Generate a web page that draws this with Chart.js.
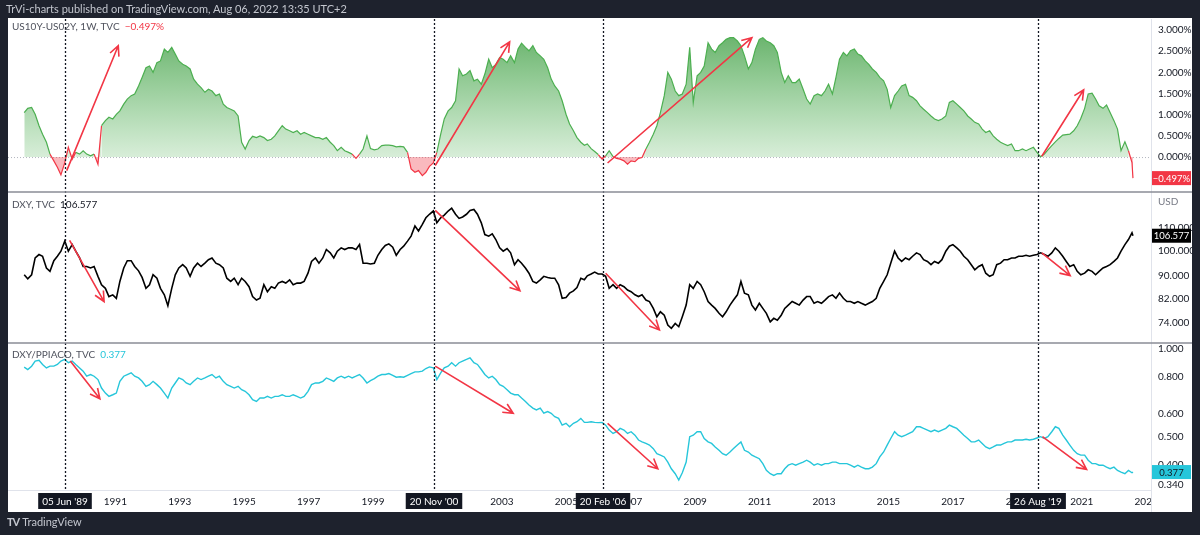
<!DOCTYPE html>
<html>
<head>
<meta charset="utf-8">
<script src="https://cdn.jsdelivr.net/npm/chart.js@4.4.1/dist/chart.umd.min.js"></script>
<style>
  body { margin: 0; background: #1e222d; }
  #wrap { position: relative; width: 1200px; height: 535px; overflow: hidden; }
  #chart { position: absolute; left: 0; top: 0; }
  .txt { position: absolute; font-family: Lato, "Liberation Sans", sans-serif; white-space: pre; }
  .hdr { left: 6px; top: 2px; font-size: 11px; color: #c3c6ce; }
  .leg { left: 12px; font-size: 10px; color: #50535e; }
  .foot { left: 7px; top: 515px; font-size: 11px; color: #c3c6ce; }
  .foot b { font-size: 11px; letter-spacing: -1px; margin-right: 3px; }
</style>
</head>
<body>
<div id="wrap">
  <canvas id="chart" width="1200" height="535"></canvas>
  <div class="txt hdr">TrVi-charts published on TradingView.com, Aug 06, 2022 13:35 UTC+2</div>
  <div class="txt leg" style="top:20px">US10Y-US02Y, 1W, TVC  <span style="color:#f23645">−0.497%</span></div>
  <div class="txt leg" style="top:198px">DXY, TVC  <span style="color:#131722">106.577</span></div>
  <div class="txt leg" style="top:348px">DXY/PPIACO, TVC  <span style="color:#26c6da">0.377</span></div>
  <div class="txt foot"><b>TV</b>TradingView</div>
</div>
<script>
// weekly closes, sampled roughly every 6 weeks (decimal years)
const dates = [
  1988.17, 1988.28, 1988.40, 1988.51, 1988.63, 1988.74, 1988.86, 1988.97, 1989.09, 1989.20,
  1989.31, 1989.43, 1989.54, 1989.66, 1989.77, 1989.89, 1990.00, 1990.11, 1990.23, 1990.34,
  1990.46, 1990.57, 1990.69, 1990.80, 1990.92, 1991.03, 1991.14, 1991.26, 1991.37, 1991.49,
  1991.60, 1991.72, 1991.83, 1991.95, 1992.06, 1992.17, 1992.29, 1992.40, 1992.52, 1992.63,
  1992.75, 1992.86, 1992.97, 1993.09, 1993.20, 1993.32, 1993.43, 1993.55, 1993.66, 1993.78,
  1993.89, 1994.00, 1994.12, 1994.23, 1994.35, 1994.46, 1994.58, 1994.69, 1994.81, 1994.92,
  1995.03, 1995.15, 1995.26, 1995.38, 1995.49, 1995.61, 1995.72, 1995.84, 1995.95, 1996.06,
  1996.18, 1996.29, 1996.41, 1996.52, 1996.64, 1996.75, 1996.86, 1996.98, 1997.09, 1997.21,
  1997.32, 1997.44, 1997.55, 1997.67, 1997.78, 1997.89, 1998.01, 1998.12, 1998.24, 1998.35,
  1998.47, 1998.58, 1998.69, 1998.81, 1998.92, 1999.04, 1999.15, 1999.27, 1999.38, 1999.49,
  1999.61, 1999.72, 1999.84, 1999.95, 2000.07, 2000.18, 2000.30, 2000.41, 2000.53, 2000.64,
  2000.75, 2000.87, 2000.98, 2001.10, 2001.21, 2001.33, 2001.44, 2001.56, 2001.67, 2001.78,
  2001.90, 2002.01, 2002.13, 2002.24, 2002.36, 2002.47, 2002.59, 2002.70, 2002.81, 2002.93,
  2003.04, 2003.16, 2003.27, 2003.39, 2003.50, 2003.61, 2003.73, 2003.84, 2003.96, 2004.07,
  2004.19, 2004.30, 2004.42, 2004.53, 2004.64, 2004.76, 2004.87, 2004.99, 2005.10, 2005.22,
  2005.33, 2005.45, 2005.56,
  2005.65, 2005.77, 2005.88, 2005.99, 2006.11, 2006.22, 2006.33, 2006.45, 2006.56, 2006.67,
  2006.79, 2006.90, 2007.01, 2007.13, 2007.24, 2007.35, 2007.47, 2007.58, 2007.70, 2007.81,
  2007.92, 2008.04, 2008.15, 2008.26, 2008.38, 2008.49, 2008.60, 2008.72, 2008.83, 2008.94,
  2009.06, 2009.17, 2009.28, 2009.40, 2009.51, 2009.62, 2009.74, 2009.85, 2009.96, 2010.08,
  2010.19, 2010.31, 2010.42, 2010.53, 2010.65, 2010.76, 2010.87, 2010.99, 2011.10, 2011.21,
  2011.33, 2011.44, 2011.55, 2011.67, 2011.78, 2011.89, 2012.01, 2012.12, 2012.23, 2012.35,
  2012.46, 2012.57, 2012.69, 2012.80, 2012.92, 2013.03, 2013.14, 2013.26, 2013.37, 2013.48,
  2013.60, 2013.71, 2013.82, 2013.94, 2014.05, 2014.16, 2014.28, 2014.39, 2014.50, 2014.62,
  2014.73, 2014.85, 2014.96, 2015.07, 2015.19, 2015.30, 2015.41, 2015.53, 2015.64, 2015.75,
  2015.87, 2015.98, 2016.09, 2016.21, 2016.32, 2016.43, 2016.55, 2016.66, 2016.78, 2016.89,
  2017.00, 2017.12, 2017.23, 2017.34, 2017.46, 2017.57, 2017.68, 2017.80, 2017.91, 2018.02,
  2018.14, 2018.25, 2018.36, 2018.48, 2018.59, 2018.70, 2018.82, 2018.93, 2019.04, 2019.16,
  2019.27, 2019.38, 2019.50, 2019.61, 2019.72, 2019.84, 2019.95, 2020.07, 2020.18, 2020.29,
  2020.41, 2020.52, 2020.63, 2020.75, 2020.86, 2020.97, 2021.09, 2021.20, 2021.32, 2021.43,
  2021.54, 2021.66, 2021.77, 2021.88, 2022.00, 2022.11, 2022.22, 2022.34, 2022.45, 2022.56,
  2022.59
];

// US10Y - US02Y spread, %
const spread = [
  1.05, 1.15, 1.17, 1.01, 0.74, 0.54, 0.35, 0.07, -0.09, -0.24,
  -0.42, -0.13, 0.23, -0.05, 0.11, 0.07, 0.15, 0.07, 0.03, 0.07,
  -0.17, 0.74, 0.86, 0.94, 0.90, 1.01, 1.09, 1.25, 1.37, 1.45,
  1.49, 1.68, 1.88, 2.11, 2.15, 2.00, 2.23, 2.27, 2.55, 2.47,
  2.59, 2.43, 2.27, 2.19, 2.15, 2.08, 1.84, 1.72, 1.64, 1.53,
  1.60, 1.56, 1.45, 1.49, 1.25, 1.17, 1.13, 1.09, 0.97, 0.35,
  0.19, 0.39, 0.49, 0.46, 0.50, 0.46, 0.39, 0.42, 0.50, 0.62,
  0.74, 0.66, 0.62, 0.58, 0.62, 0.54, 0.58, 0.54, 0.50, 0.46,
  0.46, 0.42, 0.46, 0.35, 0.27, 0.15, 0.23, 0.15, 0.11, 0.07,
  -0.03, 0.07, 0.19, 0.50, 0.20, 0.17, 0.19, 0.27, 0.28, 0.28,
  0.27, 0.24, 0.25, 0.24, 0.11, -0.28, -0.36, -0.32, -0.44, -0.36,
  -0.22, -0.14, 0.11, 0.54, 0.90, 1.09, 1.17, 1.33, 2.08, 1.92,
  1.96, 2.04, 1.80, 1.84, 1.72, 1.96, 2.31, 2.11, 2.19, 2.35,
  2.31, 2.23, 2.39, 2.23, 2.55, 2.69, 2.59, 2.51, 2.63, 2.47,
  2.39, 2.31, 2.11, 1.84, 1.68, 1.56, 1.33, 1.01, 0.78, 0.62,
  0.46, 0.35, 0.28,
  0.31, 0.20, 0.13, 0.06, -0.05, 0.03, 0.15, 0.01, -0.03, -0.05,
  -0.09, -0.17, -0.09, -0.11, -0.03, -0.01, 0.19, 0.35, 0.54, 0.74,
  1.05, 1.45, 2.00, 1.84, 1.56, 1.45, 1.49, 1.72, 2.59, 1.29,
  1.92, 2.00, 2.15, 2.70, 2.55, 2.47, 2.63, 2.70, 2.78, 2.82,
  2.82, 2.74, 2.63, 2.39, 2.08, 2.23, 2.55, 2.78, 2.82, 2.74,
  2.70, 2.63, 2.47, 2.00, 1.76, 1.92, 1.76, 1.76, 1.84, 1.60,
  1.37, 1.25, 1.45, 1.49, 1.45, 1.56, 1.72, 1.49, 1.88, 2.31,
  2.47, 2.39, 2.51, 2.55, 2.43, 2.39, 2.27, 2.19, 2.08, 2.00,
  1.88, 1.80, 1.60, 1.17, 1.45, 1.56, 1.68, 1.72, 1.45, 1.41,
  1.33, 1.21, 1.13, 1.05, 0.97, 0.90, 0.86, 0.90, 0.97, 1.29,
  1.33, 1.25, 1.17, 1.09, 0.97, 0.90, 0.82, 0.78, 0.66, 0.58,
  0.62, 0.50, 0.42, 0.35, 0.31, 0.27, 0.31, 0.15, 0.15, 0.19,
  0.15, 0.19, 0.23, 0.11, 0.01, 0.07, 0.17, 0.27, 0.36, 0.44,
  0.52, 0.53, 0.54, 0.62, 0.74, 0.91, 1.15, 1.49, 1.51, 1.37,
  1.21, 1.15, 1.23, 1.05, 0.86, 0.66, 0.15, 0.36, 0.15, -0.13,
  -0.497
];

// DXY, TVC
const dxy = [
  90.5, 89.0, 90.5, 97.1, 98.5, 97.8, 93.1, 91.8, 96.0, 97.8,
  99.9, 104.2, 99.9, 102.7, 99.9, 97.1, 93.7, 93.7, 93.1, 93.7,
  89.9, 86.8, 85.5, 82.6, 83.2, 82.0, 88.0, 93.1, 96.0, 96.0,
  93.7, 92.0, 89.5, 85.5, 86.8, 90.5, 89.2, 85.5, 83.2, 79.5,
  85.5, 90.5, 93.1, 94.4, 93.1, 89.9, 93.1, 95.0, 93.7, 95.0,
  96.4, 97.1, 95.0, 94.4, 93.1, 89.2, 88.0, 89.2, 86.8, 89.2,
  88.0, 86.1, 82.6, 81.4, 82.0, 86.8, 84.3, 86.1, 85.5, 87.4,
  88.0, 87.4, 88.6, 86.8, 87.4, 87.4, 88.0, 91.1, 95.7, 97.1,
  95.0, 97.1, 100.6, 99.2, 97.1, 99.9, 101.3, 100.6, 101.3, 101.3,
  100.6, 102.7, 95.0, 95.0, 94.7, 95.0, 98.2, 100.6, 102.3, 103.0,
  101.6, 98.2, 100.6, 102.0, 104.2, 106.4, 111.0, 108.7, 111.8, 114.9,
  116.6, 118.2, 112.5, 114.9, 116.2, 118.2, 119.6, 116.6, 114.6, 115.3,
  116.6, 118.5, 119.0, 116.6, 112.5, 107.1, 106.4, 107.4, 104.9, 101.3,
  99.9, 101.0, 99.2, 94.4, 96.4, 95.0, 93.1, 91.1, 88.0, 87.4,
  88.6, 89.9, 89.5, 89.2, 89.2, 86.8, 82.0, 82.3, 83.8, 84.6,
  85.8, 89.2, 88.6,
  90.1, 90.8, 91.5, 90.8, 90.8, 89.9, 85.5, 86.8, 85.5, 86.8,
  86.1, 84.9, 84.3, 83.2, 82.6, 83.2, 81.4, 80.9, 78.6, 75.9,
  77.5, 76.4, 73.3, 72.3, 73.8, 72.8, 75.9, 79.7, 86.8, 85.5,
  88.0, 86.8, 84.3, 80.9, 79.7, 78.6, 77.0, 75.9, 77.5, 79.7,
  81.4, 83.2, 88.0, 83.8, 83.2, 79.7, 78.1, 80.3, 78.6, 77.0,
  74.3, 75.4, 74.8, 76.4, 78.6, 79.7, 80.9, 80.3, 79.7, 81.4,
  82.6, 82.6, 80.3, 80.9, 80.3, 81.4, 82.6, 83.2, 82.0, 83.8,
  82.0, 80.9, 80.9, 80.3, 80.9, 80.3, 79.7, 80.3, 80.9, 82.0,
  85.5, 88.0, 90.5, 95.0, 99.9, 97.1, 95.7, 97.1, 96.4, 97.8,
  99.2, 98.5, 96.4, 95.7, 94.4, 95.7, 95.0, 96.4, 99.9, 102.0,
  102.7, 101.3, 99.9, 97.8, 96.4, 94.4, 92.4, 93.7, 94.4, 91.1,
  89.9, 90.5, 94.4, 95.0, 96.4, 96.4, 97.1, 97.1, 97.8, 97.8,
  98.2, 97.8, 98.2, 98.5, 99.2, 98.5, 97.8, 99.2, 101.3, 99.9,
  97.8, 95.7, 93.7, 94.4, 91.8, 90.5, 91.1, 92.4, 91.8, 90.5,
  91.8, 93.1, 93.7, 94.4, 95.7, 97.1, 99.9, 102.7, 104.9, 107.9,
  106.577
];

// DXY / PPIACO, TVC
const dxyPpi = [
  0.866, 0.850, 0.873, 0.909, 0.914, 0.885, 0.861, 0.873, 0.873, 0.885,
  0.909, 0.921, 0.897, 0.909, 0.885, 0.861, 0.839, 0.806, 0.817, 0.806,
  0.785, 0.734, 0.705, 0.687, 0.696, 0.705, 0.774, 0.806, 0.817, 0.828,
  0.806, 0.795, 0.774, 0.744, 0.754, 0.774, 0.754, 0.734, 0.705, 0.678,
  0.734, 0.764, 0.795, 0.785, 0.764, 0.754, 0.774, 0.795, 0.785, 0.795,
  0.806, 0.817, 0.795, 0.806, 0.774, 0.754, 0.744, 0.734, 0.744, 0.724,
  0.715, 0.696, 0.669, 0.660, 0.678, 0.678, 0.687, 0.678, 0.687, 0.687,
  0.696, 0.687, 0.687, 0.696, 0.687, 0.678, 0.687, 0.715, 0.754, 0.764,
  0.764, 0.774, 0.795, 0.785, 0.774, 0.795, 0.806, 0.795, 0.806, 0.795,
  0.806, 0.817, 0.795, 0.764, 0.778, 0.791, 0.806, 0.817, 0.817, 0.823,
  0.812, 0.800, 0.803, 0.800, 0.812, 0.823, 0.834, 0.834, 0.839, 0.857,
  0.868, 0.861, 0.785, 0.828, 0.861, 0.873, 0.897, 0.873, 0.897, 0.909,
  0.921, 0.933, 0.897, 0.885, 0.850, 0.817, 0.795, 0.806, 0.785, 0.754,
  0.744, 0.724, 0.705, 0.696, 0.696, 0.678, 0.660, 0.642, 0.626, 0.617,
  0.626, 0.601, 0.609, 0.601, 0.585, 0.577, 0.547, 0.555, 0.540, 0.555,
  0.562, 0.577, 0.559,
  0.559, 0.562, 0.559, 0.558, 0.559, 0.547, 0.526, 0.512, 0.519, 0.533,
  0.526, 0.512, 0.519, 0.505, 0.486, 0.479, 0.473, 0.467, 0.454, 0.436,
  0.431, 0.425, 0.408, 0.387, 0.372, 0.354, 0.375, 0.408, 0.499, 0.505,
  0.519, 0.519, 0.492, 0.479, 0.473, 0.460, 0.448, 0.436, 0.431, 0.442,
  0.454, 0.467, 0.479, 0.448, 0.442, 0.431, 0.425, 0.419, 0.403, 0.382,
  0.372, 0.367, 0.372, 0.372, 0.387, 0.398, 0.403, 0.398, 0.403, 0.408,
  0.414, 0.408, 0.398, 0.403, 0.398, 0.403, 0.403, 0.408, 0.408, 0.403,
  0.403, 0.403, 0.398, 0.392, 0.398, 0.392, 0.387, 0.387, 0.392, 0.403,
  0.425, 0.442, 0.467, 0.492, 0.519, 0.505, 0.499, 0.505, 0.512, 0.519,
  0.540, 0.540, 0.533, 0.526, 0.519, 0.526, 0.519, 0.526, 0.533, 0.547,
  0.540, 0.533, 0.519, 0.505, 0.492, 0.479, 0.479, 0.486, 0.473, 0.460,
  0.454, 0.460, 0.467, 0.467, 0.473, 0.479, 0.479, 0.486, 0.486, 0.486,
  0.489, 0.486, 0.489, 0.494, 0.499, 0.492, 0.499, 0.519, 0.540, 0.533,
  0.505, 0.486, 0.467, 0.448, 0.436, 0.431, 0.431, 0.414, 0.403, 0.403,
  0.398, 0.398, 0.392, 0.387, 0.392, 0.382, 0.377, 0.372, 0.382, 0.375,
  0.377
];

// ticks
const xTickYears = [1989, 1991, 1993, 1995, 1997, 1999, 2001, 2003, 2005, 2007, 2009, 2011,
                    2013, 2015, 2017, 2019, 2021, 2023];
const topTicks = [0, 0.5, 1, 1.5, 2, 2.5, 3];
const midTicks = [74, 82, 90, 100, 110];
const botTicks = [0.34, 0.4, 0.5, 0.6, 0.8, 1.0];

// vertical date markers
const markerDates = [1989.43, 2000.89, 2006.14, 2019.65];
const markerLabels = ["05 Jun '89", "20 Nov '00", "20 Feb '06", "26 Aug '19"];

// hand drawn arrows [axis, fromYear, fromValue, toYear, toValue]
const arrows = [
  ['yTop', 1989.49, -0.32, 1991.09, 2.63],
  ['yTop', 2000.93, -0.20, 2003.24, 2.72],
  ['yTop', 2006.28, -0.14, 2010.76, 2.82],
  ['yTop', 2019.76, 0.02, 2021.06, 1.59],
  ['yMid', 1989.58, 104.5, 1990.65, 80.9],
  ['yMid', 2000.93, 118.5, 2003.56, 84.6],
  ['yMid', 2006.22, 91.1, 2007.89, 71.8],
  ['yMid', 2019.76, 99.2, 2020.64, 90.2],
  ['yBot', 1989.60, 0.909, 1990.52, 0.674],
  ['yBot', 2000.93, 0.873, 2003.35, 0.601],
  ['yBot', 2006.28, 0.555, 2007.84, 0.387],
  ['yBot', 2019.78, 0.499, 2021.15, 0.385]
];

if (dates.length !== spread.length || dates.length !== dxy.length || dates.length !== dxyPpi.length) {
  console.warn('length mismatch', dates.length, spread.length, dxy.length, dxyPpi.length);
}

const RED = '#f23645', GREEN = '#4caf50', CYAN = '#26c6da';
const FONT = 'Lato, "Liberation Sans", sans-serif';
const pts = arr => dates.map((d, i) => ({ x: d, y: arr[i] }));

function arrow(ctx, x1, y1, x2, y2) {
  const a = Math.atan2(y2 - y1, x2 - x1), L = 11, w = 0.45;
  ctx.beginPath();
  ctx.moveTo(x1, y1); ctx.lineTo(x2, y2);
  ctx.moveTo(x2 - L * Math.cos(a - w), y2 - L * Math.sin(a - w));
  ctx.lineTo(x2, y2);
  ctx.lineTo(x2 - L * Math.cos(a + w), y2 - L * Math.sin(a + w));
  ctx.stroke();
}

function valueBox(ctx, y, text, bg, fg) {
  ctx.fillStyle = bg;
  ctx.fillRect(1152, y - 7, 39, 14);
  ctx.fillStyle = fg;
  ctx.font = '9.5px ' + FONT;
  ctx.textAlign = 'center';
  ctx.textBaseline = 'middle';
  ctx.fillText(text, 1171.5, y + 0.5);
}

const tvPlugin = {
  id: 'tv',
  beforeDraw(chart) {
    const c = chart.ctx;
    c.save();
    c.fillStyle = '#ffffff';
    c.fillRect(8, 18, 1184, 494);
    c.restore();
  },
  beforeDatasetsDraw(chart) {
    const c = chart.ctx, a = chart.chartArea, y0 = chart.scales.yTop.getPixelForValue(0);
    c.save();
    c.strokeStyle = '#b2b5be';
    c.lineWidth = 1;
    c.setLineDash([1, 2]);
    c.beginPath(); c.moveTo(a.left, y0 + 0.5); c.lineTo(a.right, y0 + 0.5); c.stroke();
    c.restore();
  },
  afterDatasetsDraw(chart) {
    const c = chart.ctx, a = chart.chartArea, x = chart.scales.x;
    c.save();
    // vertical dotted markers
    c.strokeStyle = '#131722';
    c.lineWidth = 1.3;
    c.setLineDash([2, 2]);
    markerDates.forEach(d => {
      const px = Math.round(x.getPixelForValue(d)) + 0.5;
      c.beginPath(); c.moveTo(px, a.top); c.lineTo(px, a.bottom); c.stroke();
    });
    c.setLineDash([]);
    // arrows
    c.strokeStyle = RED;
    c.lineWidth = 1.6;
    arrows.forEach(([ax, x1, v1, x2, v2]) => {
      const s = chart.scales[ax];
      arrow(c, x.getPixelForValue(x1), s.getPixelForValue(v1), x.getPixelForValue(x2), s.getPixelForValue(v2));
    });
    c.restore();
  },
  afterDraw(chart) {
    const c = chart.ctx, a = chart.chartArea, x = chart.scales.x;
    const sTop = chart.scales.yTop, sMid = chart.scales.yMid, sBot = chart.scales.yBot;
    c.save();
    // clip the time axis under the price scale
    c.fillStyle = '#ffffff';
    c.fillRect(a.right + 1, a.bottom + 1, 1192 - a.right - 1, 21);
    c.strokeStyle = '#e0e3eb';
    c.lineWidth = 1;
    c.beginPath(); c.moveTo(a.right + 0.5, a.bottom); c.lineTo(a.right + 0.5, 512); c.stroke();
    // pane separators
    c.strokeStyle = '#8a8d96';
    c.lineWidth = 1.5;
    [sTop.bottom, sMid.bottom].forEach(yy => {
      c.beginPath(); c.moveTo(8, yy); c.lineTo(1192, yy); c.stroke();
    });
    // date marker labels
    c.font = '10px ' + FONT;
    c.textAlign = 'center';
    c.textBaseline = 'middle';
    markerDates.forEach((d, i) => {
      const px = Math.round(x.getPixelForValue(d));
      const w = c.measureText(markerLabels[i]).width + 8;
      c.fillStyle = '#131722';
      c.fillRect(px - w / 2, a.bottom + 3, w, 16);
      c.fillStyle = '#ffffff';
      c.fillText(markerLabels[i], px, a.bottom + 11.5);
    });
    // last value boxes
    valueBox(c, sTop.getPixelForValue(spread[spread.length - 1]), '−0.497%', RED, '#ffffff');
    valueBox(c, sMid.getPixelForValue(dxy[dxy.length - 1]), '106.577', '#000000', '#ffffff');
    valueBox(c, sBot.getPixelForValue(dxyPpi[dxyPpi.length - 1]), '0.377', CYAN, '#131722');
    c.fillStyle = '#787b86';
    c.font = '10px ' + FONT;
    c.textAlign = 'left';
    c.fillText('USD', 1158, sMid.top + 10);
    c.restore();
  }
};

const yCommon = (ticks, fmt) => ({
  position: 'right',
  stack: 'panes',
  grid: { display: false, drawTicks: false },
  border: { display: true, color: '#e0e3eb' },
  afterFit(s) { s.width = 41; },
  afterBuildTicks(s) { s.ticks = ticks.map(v => ({ value: v })); },
  ticks: {
    padding: 7,
    color: '#131722',
    font: { family: FONT, size: 10 },
    autoSkip: false,
    callback: fmt
  }
});

new Chart(document.getElementById('chart'), {
  type: 'line',
  data: {
    datasets: [
      {
        label: 'US10Y-US02Y',
        data: pts(spread),
        yAxisID: 'yTop',
        borderWidth: 1.2,
        borderColor: GREEN,
        segment: {
          borderColor: s => (s.p0.parsed.y < 0 || s.p1.parsed.y < 0) ? RED : GREEN
        },
        backgroundColor: c => {
          const ch = c.chart, s = ch.scales.yTop;
          if (!ch.chartArea || !s) return 'rgba(76,175,80,0.4)';
          const g = ch.ctx.createLinearGradient(0, s.getPixelForValue(2.9), 0, s.getPixelForValue(0));
          g.addColorStop(0, 'rgba(67,160,71,0.8)');
          g.addColorStop(1, 'rgba(76,175,80,0.22)');
          return g;
        },
        fill: { target: { value: 0 }, below: 'rgba(242,54,69,0.35)' },
        pointRadius: 0
      },
      {
        label: 'DXY',
        data: pts(dxy),
        yAxisID: 'yMid',
        borderColor: '#000000',
        borderWidth: 1.6,
        fill: false,
        pointRadius: 0
      },
      {
        label: 'DXY/PPIACO',
        data: pts(dxyPpi),
        yAxisID: 'yBot',
        borderColor: CYAN,
        borderWidth: 1.4,
        fill: false,
        pointRadius: 0
      }
    ]
  },
  options: {
    responsive: false,
    animation: false,
    devicePixelRatio: 1,
    layout: { padding: { left: 8, right: 8, top: 19, bottom: 23 } },
    plugins: { legend: { display: false }, tooltip: { enabled: false } },
    scales: {
      x: {
        type: 'linear',
        min: 1987.667,
        max: 2023.15,
        grid: { display: false, drawTicks: false },
        border: { display: true, color: '#e0e3eb' },
        afterFit(s) { s.height = 22; },
        afterBuildTicks(s) { s.ticks = xTickYears.map(v => ({ value: v })); },
        ticks: {
          padding: 6,
          maxRotation: 0,
          autoSkip: false,
          color: '#131722',
          font: { family: FONT, size: 10 },
          callback: v => String(v)
        }
      },
      yTop: Object.assign(yCommon(topTicks, v => v.toFixed(3) + '%'), {
        type: 'linear', min: -0.825, max: 3.26, stackWeight: 173
      }),
      yMid: Object.assign(yCommon(midTicks, v => v.toFixed(3)), {
        type: 'logarithmic', min: 68, max: 128, stackWeight: 151
      }),
      yBot: Object.assign(yCommon(botTicks, v => v.toFixed(3)), {
        type: 'logarithmic', min: 0.327, max: 1.049, stackWeight: 147
      })
    }
  },
  plugins: [tvPlugin]
});
</script>
</body>
</html>
